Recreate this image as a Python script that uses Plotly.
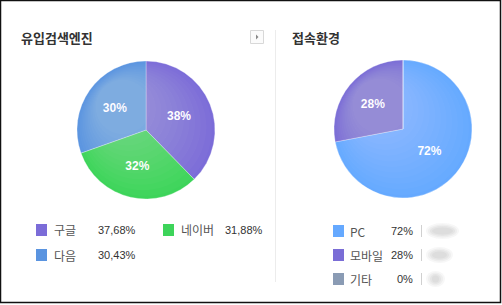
import plotly.graph_objects as go

W, H = 502, 305

# ---- data ----
engine_labels = ["구글", "네이버", "다음"]
engine_values = [37.68, 31.88, 30.43]
engine_value_text = ["37,68%", "31,88%", "30,43%"]
engine_colors = ["#7b6cd8", "#3dd45a", "#5a94e0"]

env_labels = ["PC", "모바일", "기타"]
env_values = [72, 28, 0]
env_value_text = ["72%", "28%", "0%"]
env_colors = ["#65a9ff", "#7a6dd6", "#8a9bb4"]

titles = ["유입검색엔진", "접속환경"]


def px(x):
    return x / W


def py(y):
    return 1 - y / H


fig = go.Figure()

# left pie
fig.add_trace(go.Pie(
    labels=engine_labels, values=engine_values, sort=False,
    direction="clockwise", rotation=0,
    marker=dict(colors=engine_colors, line=dict(color="rgba(255,255,255,0.6)", width=0.5)),
    texttemplate="%{value:.0f}%", textposition="inside", insidetextorientation="horizontal",
    textfont=dict(family="Arial, Liberation Sans", size=12, color="white", weight="bold"),
    domain=dict(x=[px(77), px(215)], y=[py(199), py(61)]),
    showlegend=False, hoverinfo="label+percent",
))

# right pie
fig.add_trace(go.Pie(
    labels=env_labels, values=env_values, sort=False,
    direction="clockwise", rotation=0,
    marker=dict(colors=env_colors, line=dict(color="rgba(255,255,255,0.6)", width=0.5)),
    texttemplate=["%{value:.0f}%" if v > 0 else "" for v in env_values],
    textposition="inside", insidetextorientation="horizontal",
    textfont=dict(family="Arial, Liberation Sans", size=12, color="white", weight="bold"),
    domain=dict(x=[px(334), px(472)], y=[py(198), py(60)]),
    showlegend=False, hoverinfo="label+percent",
))

shapes = []
annotations = []

# soft highlight on pies (glossy look), many faint steps for a smooth gradient
for cx, cy in [(146, 130), (403, 129)]:
    n = 12
    for i in range(n):
        r = 67 - i * 3.6
        off = 1 + i * 2.0
        hx, hy = cx - off, cy - off
        shapes.append(dict(type="circle", xref="paper", yref="paper",
                           x0=px(hx - r), x1=px(hx + r), y0=py(hy + r), y1=py(hy - r),
                           line=dict(width=0), fillcolor="rgba(255,255,255,0.022)", layer="above"))

# outer frame
shapes.append(dict(type="rect", xref="paper", yref="paper",
                   x0=px(0.5), x1=px(500.5), y0=py(302.5), y1=py(0.5),
                   line=dict(color="#111", width=1.5), layer="above"))
# divider
shapes.append(dict(type="line", xref="paper", yref="paper",
                   x0=px(275.5), x1=px(275.5), y0=py(30), y1=py(282),
                   line=dict(color="#ececec", width=1)))
# small button
shapes.append(dict(type="rect", xref="paper", yref="paper",
                   x0=px(250.5), x1=px(263.5), y0=py(43.5), y1=py(30.5),
                   line=dict(color="#d8d8d8", width=1), fillcolor="#fbfbfb"))
shapes.append(dict(type="path", xref="paper", yref="paper",
                   path=f"M {px(256)} {py(34.5)} L {px(256)} {py(39.5)} L {px(258.5)} {py(37)} Z",
                   line=dict(width=0), fillcolor="#888"))

# titles
annotations.append(dict(text=titles[0], x=px(19), y=py(37), xref="paper", yref="paper",
                        xanchor="left", yanchor="middle", showarrow=False,
                        font=dict(family="Noto Sans CJK KR", size=13, color="#333", weight="bold")))
annotations.append(dict(text=titles[1], x=px(290), y=py(37), xref="paper", yref="paper",
                        xanchor="left", yanchor="middle", showarrow=False,
                        font=dict(family="Noto Sans CJK KR", size=13, color="#333", weight="bold")))

label_font = dict(family="Noto Sans CJK KR", size=12, color="#555")
value_font = dict(family="Liberation Sans, Arial", size=11, color="#333")

# left legend
left_pos = [(36, 230), (163, 230), (36, 255)]
for (x, y), lab, val, col in zip(left_pos, engine_labels, engine_value_text, engine_colors):
    shapes.append(dict(type="rect", xref="paper", yref="paper",
                       x0=px(x), x1=px(x + 11), y0=py(y + 6), y1=py(y - 6),
                       line=dict(width=0), fillcolor=col))
    annotations.append(dict(text=lab, x=px(x + 16), y=py(y), xref="paper", yref="paper",
                            xanchor="left", yanchor="middle", showarrow=False, font=label_font))
    annotations.append(dict(text=val, x=px(x + 60), y=py(y), xref="paper", yref="paper",
                            xanchor="left", yanchor="middle", showarrow=False, font=value_font))

# right legend
right_rows = [231, 255, 279]
blob_w = [32, 26, 18]
for y, lab, val, col, bw in zip(right_rows, env_labels, env_value_text, env_colors, blob_w):
    shapes.append(dict(type="rect", xref="paper", yref="paper",
                       x0=px(333), x1=px(344), y0=py(y + 6), y1=py(y - 6),
                       line=dict(width=0), fillcolor=col))
    annotations.append(dict(text=lab, x=px(348), y=py(y), xref="paper", yref="paper",
                            xanchor="left", yanchor="middle", showarrow=False, font=label_font))
    annotations.append(dict(text=val, x=px(415), y=py(y), xref="paper", yref="paper",
                            xanchor="right", yanchor="middle", showarrow=False, font=value_font))
    shapes.append(dict(type="line", xref="paper", yref="paper",
                       x0=px(421.5), x1=px(421.5), y0=py(y + 6), y1=py(y - 6),
                       line=dict(color="#d0d0d0", width=1)))
    # blurred placeholder (soft nested ellipses)
    for k, a in enumerate([0.12, 0.15, 0.18, 0.2]):
        shapes.append(dict(type="circle", xref="paper", yref="paper",
                           x0=px(426 + k * 2), x1=px(427 + bw - k * 2),
                           y0=py(y + 8 - k * 1.5), y1=py(y - 8 + k * 1.5),
                           line=dict(width=0), fillcolor=f"rgba(190,190,190,{a})"))

fig.update_layout(
    width=W, height=H, margin=dict(l=0, r=0, t=0, b=0),
    paper_bgcolor="white", plot_bgcolor="white",
    shapes=shapes, annotations=annotations,
)

fig.write_html("out.html")
